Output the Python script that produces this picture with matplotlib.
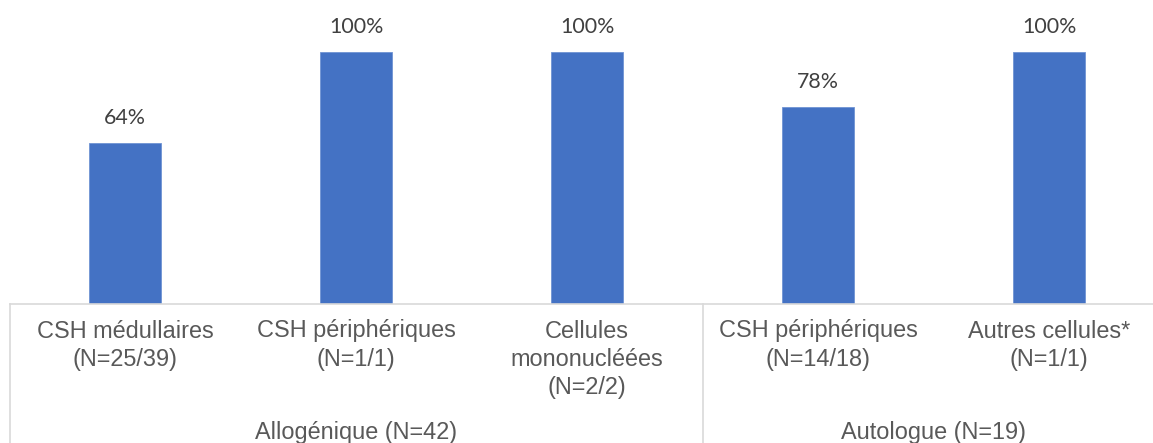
import matplotlib
matplotlib.use("Agg")
import matplotlib.pyplot as plt
from matplotlib.transforms import blended_transform_factory

categories = ["CSH médullaires\n(N=25/39)", "CSH périphériques\n(N=1/1)",
              "Cellules\nmononucléées\n(N=2/2)", "CSH périphériques\n(N=14/18)",
              "Autres cellules*\n(N=1/1)"]
values = [64, 100, 100, 78, 100]
value_labels = ["64%", "100%", "100%", "78%", "100%"]
groups = ["Allogénique (N=42)", "Autologue (N=19)"]
group_sizes = [3, 2]

W, H = 1153, 443
fig = plt.figure(figsize=(W / 100, H / 100), dpi=100)
ax_left = 9.5 / W
ax_w = 1155 / W
ax_bottom = (H - 303.5) / H
ax_h = 303.5 / H
ax = fig.add_axes([ax_left, ax_bottom, ax_w, ax_h])

x = list(range(len(values)))
ax.bar(x, values, width=0.314, color="#4472C4", edgecolor="#6F93D3", linewidth=0.6, zorder=2)
ax.set_xlim(-0.5, len(values) - 0.5)
ax.set_ylim(0, 100 * 303.5 / (303.5 - 52))

for s in ["top", "right", "left"]:
    ax.spines[s].set_visible(False)
ax.spines["bottom"].set_color("#D9D9D9")
ax.spines["bottom"].set_linewidth(1.2)
ax.set_yticks([])
ax.set_xticks([])

for xi, v, lab in zip(x, values, value_labels):
    ax.annotate(lab, (xi, v), xytext=(0, 25), textcoords="offset pixels",
                ha="center", va="center", fontsize=15.4, color="#404040",
                family=["Lato", "DejaVu Sans"])

trans = blended_transform_factory(ax.transData, ax.transAxes)
# category labels
for xi, c in zip(x, categories):
    ax.text(xi, -(319.5 - 303.5) / 303.5, c, transform=trans, ha="center", va="top",
            fontsize=16.9, color="#595959", family=["Liberation Sans", "DejaVu Sans"],
            linespacing=1.29)

# separators and group labels
start = 0
bounds = [-0.5]
for g, n in zip(groups, group_sizes):
    end = start + n
    bounds.append(end - 0.5)
    ax.text((start + end - 1) / 2, -(432 - 303.5) / 303.5, g, transform=trans,
            ha="center", va="center", fontsize=16.9, color="#595959",
            family=["Liberation Sans", "DejaVu Sans"])
    start = end
for b in bounds:
    ax.plot([b, b], [0, -150 / 303.5], transform=trans, color="#D9D9D9",
            linewidth=1.2, clip_on=False)

fig.savefig("out.png", dpi=100)
